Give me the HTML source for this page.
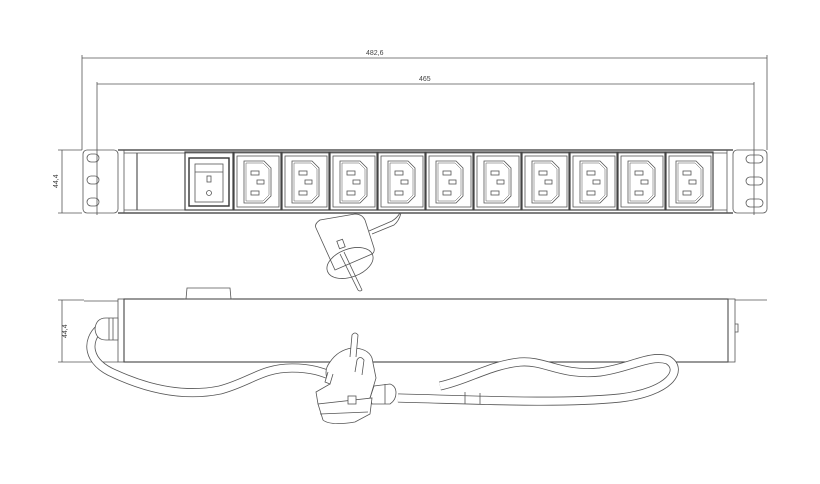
<!DOCTYPE html>
<html><head><meta charset="utf-8"><style>
html,body{margin:0;padding:0;background:#fff;}
svg{display:block;}
text{font-family:"Liberation Sans",sans-serif;font-size:7px;fill:#444;}
</style></head><body>
<svg width="820" height="484" viewBox="0 0 820 484" xmlns="http://www.w3.org/2000/svg">
<defs>
<g id="sock" fill="none" stroke="#555" stroke-width="0.8">
<rect x="0" y="0" width="47" height="58" stroke="#444" stroke-width="1.2"/>
<rect x="3" y="4" width="42" height="51"/>
<path d="M10,9 H30 L37,16 V44 L30,51 H10 Z"/>
<path d="M12,11 H29 L35,17 V43 L29,49 H12 Z" stroke-width="0.5"/>
<rect x="17" y="19" width="8" height="4"/>
<rect x="23" y="28" width="7" height="4"/>
<rect x="17" y="39" width="8" height="4"/>
</g>
</defs>
<g fill="none" stroke="#555" stroke-width="0.8">
<line x1="82" y1="58" x2="767" y2="58"/>
<line x1="82" y1="55" x2="82" y2="150"/>
<line x1="767" y1="55" x2="767" y2="150"/>
<line x1="97" y1="84" x2="754" y2="84"/>
<line x1="97" y1="82" x2="97" y2="215"/>
<line x1="754" y1="82" x2="754" y2="215"/>
<line x1="58" y1="150" x2="82" y2="150"/>
<line x1="58" y1="213" x2="82" y2="213"/>
<line x1="62" y1="150" x2="62" y2="213"/>
<rect x="83" y="150" width="35" height="63" rx="4"/>
<rect x="733" y="150" width="34" height="63" rx="4"/>
<line x1="118" y1="150" x2="733" y2="150" stroke="#333" stroke-width="1.3"/>
<line x1="118" y1="213" x2="733" y2="213" stroke="#333" stroke-width="1.3"/>
<line x1="124" y1="153" x2="727" y2="153"/>
<line x1="124" y1="210" x2="727" y2="210"/>
<line x1="124" y1="150" x2="124" y2="213"/>
<line x1="137" y1="153" x2="137" y2="210" stroke-width="1.2"/>
<line x1="727" y1="150" x2="727" y2="213"/>
<rect x="87" y="154" width="12" height="8" rx="4"/>
<rect x="87" y="176" width="12" height="8" rx="4"/>
<rect x="87" y="198" width="12" height="8" rx="4"/>
<rect x="746" y="155" width="17" height="8" rx="4"/>
<rect x="746" y="177" width="17" height="8" rx="4"/>
<rect x="746" y="199" width="17" height="8" rx="4"/>
<rect x="185" y="152" width="48" height="58" stroke="#444" stroke-width="1.2"/>
<rect x="189" y="158" width="40" height="48" stroke="#333" stroke-width="1.4"/>
<rect x="195" y="164" width="28" height="38"/>
<line x1="195" y1="172" x2="223" y2="172"/>
<rect x="207" y="176" width="4" height="6"/>
<circle cx="209" cy="193" r="2.5"/>
<use href="#sock" x="234" y="152"/>
<use href="#sock" x="282" y="152"/>
<use href="#sock" x="330" y="152"/>
<use href="#sock" x="378" y="152"/>
<use href="#sock" x="426" y="152"/>
<use href="#sock" x="474" y="152"/>
<use href="#sock" x="522" y="152"/>
<use href="#sock" x="570" y="152"/>
<use href="#sock" x="618" y="152"/>
<use href="#sock" x="666" y="152"/>
<!-- front plug -->
<path d="M369,231 L392,221 Q397,218 400,213"/>
<path d="M372,234 L394,225 Q399,221 401,213"/>
<path d="M316,228 Q314,224 320,220 L355,214 Q362,214 365,220 L374,248 Q375,252 372,254 L335,270 Z"/>
<ellipse cx="350" cy="263" rx="24" ry="14" transform="rotate(-20 350 263)"/>
<path d="M340,254 L358,290 Q360,292 362,290 L344,252"/>
<rect x="338" y="240" width="6" height="8" transform="rotate(-20 341 244)"/>
<!-- side view -->
<line x1="62" y1="300" x2="62" y2="362"/>
<line x1="58" y1="300" x2="84" y2="300"/>
<line x1="58" y1="362" x2="118" y2="362"/>
<line x1="84" y1="301" x2="118" y2="301"/>
<rect x="118" y="299" width="6" height="63"/>
<rect x="124" y="299" width="604" height="63" stroke="#444" stroke-width="1.1"/>
<rect x="728" y="299" width="7" height="63"/>
<line x1="735" y1="300" x2="767" y2="300"/>
<path d="M735,324 h3 v8 h-3"/>
<path d="M186,299 L187,288 H230 L231,299"/>
<line x1="184" y1="299" x2="233" y2="299"/>
</g>
<!-- cables as double lines -->
<g fill="none" stroke-linecap="butt">
<path d="M100,328 C86,340 86,362 115,374 C150,390 185,397 220,390 C250,382 262,368 292,368 C312,368 322,372 332,376" stroke="#555" stroke-width="9"/>
<path d="M100,328 C86,340 86,362 115,374 C150,390 185,397 220,390 C250,382 262,368 292,368 C312,368 322,372 332,376" stroke="#fff" stroke-width="7.4"/>
<path d="M398,398 C480,400 560,404 620,398 C670,392 684,370 668,360 C650,354 630,368 600,372 C560,376 545,360 520,362 C490,365 468,380 440,386" stroke="#555" stroke-width="9"/>
<path d="M398,398 C480,400 560,404 620,398 C670,392 684,370 668,360 C650,354 630,368 600,372 C560,376 545,360 520,362 C490,365 468,380 440,386" stroke="#fff" stroke-width="7.4"/>
</g>
<g fill="#fff" stroke="#555" stroke-width="0.8">
<path d="M118,318 H106 Q96,318 95,329 Q96,340 106,340 H118 Z"/>
<line x1="109" y1="318" x2="109" y2="340"/>
<line x1="113" y1="318" x2="113" y2="340"/>
<line x1="465" y1="392" x2="465" y2="404"/>
<line x1="480" y1="393" x2="480" y2="404"/>
<!-- side plug -->
<path d="M370,398 L372,404 H390 Q396,400 396,393 Q396,386 390,384 L374,386 Z"/>
<line x1="385" y1="384" x2="385" y2="404"/>
<path d="M330,384 Q322,372 330,362 Q338,350 352,348 Q368,348 372,358 L376,378 L370,398 L335,408 Q322,410 318,404 L316,392 Z"/>
<path d="M318,404 L323,420 Q330,426 355,422 L370,414 L372,398 Z"/>
<path d="M320,414 L368,412" fill="none"/>
<path d="M350,357 L352,335 Q355,331 358,335 L356,357"/>
<path d="M355,372 L357,360 Q360,355 364,360 L362,375"/>
<rect x="348" y="396" width="8" height="8"/>
<path d="M328,372 L325,382 L330,384 L333,374"/>
</g>
<text x="366" y="55">482,6</text>
<text x="419" y="81">465</text>
<text transform="translate(58 188) rotate(-90)">44,4</text>
<text transform="translate(67 338) rotate(-90)">44,4</text>
</svg>
</body></html>
